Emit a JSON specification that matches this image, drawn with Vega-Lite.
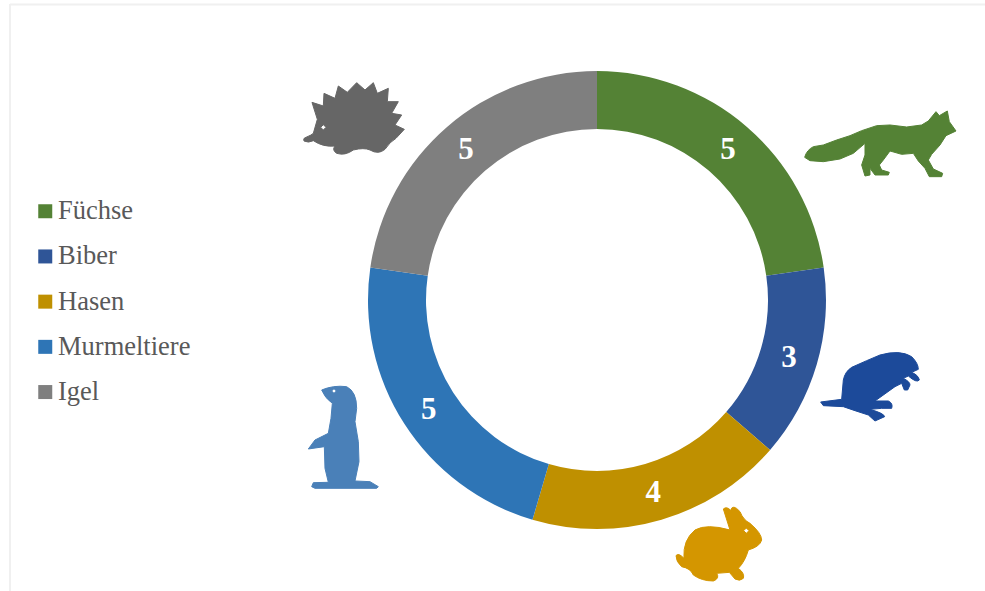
{
  "$schema": "https://vega.github.io/schema/vega-lite/v6.json",
  "width": 458,
  "height": 458,
  "autosize": {"type": "none"},
  "padding": {"left": 368, "top": 71, "right": 159, "bottom": 62},
  "background": "white",
  "view": {"stroke": null},
  "datasets": {
    "counts": [
      {"animal": "Füchse", "count": 5, "rank": 1},
      {"animal": "Biber", "count": 3, "rank": 2},
      {"animal": "Hasen", "count": 4, "rank": 3},
      {"animal": "Murmeltiere", "count": 5, "rank": 4},
      {"animal": "Igel", "count": 5, "rank": 5}
    ]
  },
  "layer": [
    {
      "data": {"values": [{"x": 10, "x2": 985, "y": 4.5}]},
      "mark": {"type": "rule", "color": "#f0f0f0", "strokeWidth": 2},
      "encoding": {
        "x": {"field": "x", "type": "quantitative", "scale": {"domain": [368, 826], "zero": false, "nice": false}, "axis": null},
        "x2": {"field": "x2"},
        "y": {"field": "y", "type": "quantitative", "scale": {"domain": [71, 529], "reverse": true, "zero": false, "nice": false}, "axis": null}
      }
    },
    {
      "data": {"values": [{"x": 10, "y": 4, "y2": 591}]},
      "mark": {"type": "rule", "color": "#f0f0f0", "strokeWidth": 2},
      "encoding": {
        "x": {"field": "x", "type": "quantitative", "scale": {"domain": [368, 826], "zero": false, "nice": false}, "axis": null},
        "y": {"field": "y", "type": "quantitative", "scale": {"domain": [71, 529], "reverse": true, "zero": false, "nice": false}, "axis": null},
        "y2": {"field": "y2"}
      }
    },
    {
      "data": {"name": "counts"},
      "mark": {"type": "arc", "innerRadius": 171, "outerRadius": 229},
      "encoding": {
        "theta": {"field": "count", "type": "quantitative", "stack": true},
        "order": {"field": "rank", "type": "quantitative"},
        "color": {
          "field": "animal",
          "type": "nominal",
          "scale": {
            "domain": ["Füchse", "Biber", "Hasen", "Murmeltiere", "Igel"],
            "range": ["#548235", "#2f5597", "#bf9000", "#2e75b6", "#7f7f7f"]
          },
          "legend": {
            "title": null,
            "orient": "none",
            "legendX": -336,
            "legendY": 127,
            "padding": 0,
            "symbolType": "square",
            "symbolSize": 196,
            "symbolStrokeWidth": 0,
            "labelFont": "Liberation Serif",
            "labelFontSize": 26.5,
            "labelColor": "#595959",
            "labelOffset": -0.5,
            "rowPadding": 18.2
          }
        }
      }
    },
    {
      "data": {"name": "counts"},
      "mark": {
        "type": "text",
        "radius": 200,
        "dy": 1.5,
        "color": "white",
        "font": "Liberation Serif",
        "fontSize": 31,
        "fontWeight": "bold",
        "baseline": "middle",
        "align": "center"
      },
      "encoding": {
        "theta": {"field": "count", "type": "quantitative", "stack": true},
        "order": {"field": "rank", "type": "quantitative"},
        "detail": {"field": "animal"},
        "text": {"field": "count", "type": "quantitative"}
      }
    },
    {
      "data": {"values": [{"animal": "Fuchs", "x": 790, "y": 95}]},
      "mark": {
        "type": "point", "filled": true, "opacity": 1, "size": 0.4444, "color": "#548235",
        "stroke": "#548235", "strokeWidth": 1, "strokeJoin": "round",
        "shape": "M44 187 Q50 165 70 155 L100 150 L140 135 L180 122 L215 107 L260 92 L300 90 L350 96 L395 90 L415 78 L438 50 L448 62 L472 48 L478 80 L498 108 L468 122 L450 150 L425 178 L415 195 L430 222 L458 235 L455 245 L418 245 L405 220 L385 198 L370 175 L335 178 L300 168 L280 195 L268 210 L275 225 L298 232 L295 240 L255 240 L240 220 L240 240 L225 243 L215 210 L225 180 L225 145 L190 175 L150 192 L100 200 L60 197 Z"
      },
      "encoding": {
        "x": {"field": "x", "type": "quantitative", "scale": {"domain": [368, 826], "zero": false, "nice": false}, "axis": null},
        "y": {"field": "y", "type": "quantitative", "scale": {"domain": [71, 529], "reverse": true, "zero": false, "nice": false}, "axis": null}
      }
    },
    {
      "data": {"values": [{"animal": "Igel", "x": 290, "y": 70}]},
      "mark": {
        "type": "point", "filled": true, "opacity": 1, "size": 0.4444, "color": "#666666",
        "stroke": "#666666", "strokeWidth": 1, "strokeJoin": "round",
        "shape": "M48 202 Q65 195 70 190 L82 148 L66 97 L100 108 L102 70 L135 85 L145 48 L172 67 L200 38 L225 60 L250 38 L262 70 L295 55 L292 95 L325 95 L305 130 L335 135 L315 165 L343 178 L318 205 Q300 215 285 238 Q265 255 240 240 Q222 232 190 240 Q165 258 140 250 Q125 240 135 228 Q100 232 70 212 Q55 220 42 213 Q38 205 48 202 Z M92 172 L100 180 L108 172 L100 164 Z"
      },
      "encoding": {
        "x": {"field": "x", "type": "quantitative", "scale": {"domain": [368, 826], "zero": false, "nice": false}, "axis": null},
        "y": {"field": "y", "type": "quantitative", "scale": {"domain": [71, 529], "reverse": true, "zero": false, "nice": false}, "axis": null}
      }
    },
    {
      "data": {"values": [{"animal": "Biber", "x": 810, "y": 340}]},
      "mark": {
        "type": "point", "filled": true, "opacity": 1, "size": 0.4444, "color": "#1c4a9a",
        "stroke": "#1c4a9a", "strokeWidth": 1, "strokeJoin": "round",
        "shape": "M32 186 L95 178 L100 120 Q105 95 125 82 L170 62 L210 45 Q270 28 305 50 Q325 70 325 88 L305 97 Q325 105 328 120 Q320 130 295 108 L280 115 Q300 125 300 135 L293 150 L283 150 L275 130 L255 140 L195 183 L235 183 Q250 190 245 205 L215 205 L180 208 Q222 220 224 230 L195 243 L175 225 L135 212 L100 200 L40 197 Z"
      },
      "encoding": {
        "x": {"field": "x", "type": "quantitative", "scale": {"domain": [368, 826], "zero": false, "nice": false}, "axis": null},
        "y": {"field": "y", "type": "quantitative", "scale": {"domain": [71, 529], "reverse": true, "zero": false, "nice": false}, "axis": null}
      }
    },
    {
      "data": {"values": [{"animal": "Hase", "x": 660, "y": 495}]},
      "mark": {
        "type": "point", "filled": true, "opacity": 1, "size": 0.4444, "color": "#d49600",
        "stroke": "#d49600", "strokeWidth": 1, "strokeJoin": "round",
        "shape": "M48 182 Q55 172 72 190 Q68 135 105 105 Q140 85 210 105 L190 42 Q200 33 212 46 Q218 25 240 50 Q250 75 270 85 Q305 115 305 135 Q300 155 265 165 Q255 200 235 220 Q255 235 250 250 Q240 260 225 252 L208 232 L170 235 Q180 250 160 258 Q125 258 100 240 Q92 220 65 215 Q48 200 48 182 Z M251 107 L259 115 L267 107 L259 99 Z"
      },
      "encoding": {
        "x": {"field": "x", "type": "quantitative", "scale": {"domain": [368, 826], "zero": false, "nice": false}, "axis": null},
        "y": {"field": "y", "type": "quantitative", "scale": {"domain": [71, 529], "reverse": true, "zero": false, "nice": false}, "axis": null}
      }
    },
    {
      "data": {"values": [{"animal": "Murmeltier", "x": 295, "y": 375}]},
      "mark": {
        "type": "point", "filled": true, "opacity": 1, "size": 0.4444, "color": "#4a80b8",
        "stroke": "#4a80b8", "strokeWidth": 1, "strokeJoin": "round",
        "shape": "M80 45 Q115 30 155 35 Q185 50 185 100 L180 140 L190 200 L192 260 L180 318 L225 320 L250 335 L245 340 L60 340 L50 335 L55 323 L100 322 L90 280 L88 215 L40 222 L60 195 L100 175 L108 130 L112 85 Q90 70 80 45 Z M110 48 L117 55 L124 48 L117 41 Z"
      },
      "encoding": {
        "x": {"field": "x", "type": "quantitative", "scale": {"domain": [368, 826], "zero": false, "nice": false}, "axis": null},
        "y": {"field": "y", "type": "quantitative", "scale": {"domain": [71, 529], "reverse": true, "zero": false, "nice": false}, "axis": null}
      }
    }
  ]
}
